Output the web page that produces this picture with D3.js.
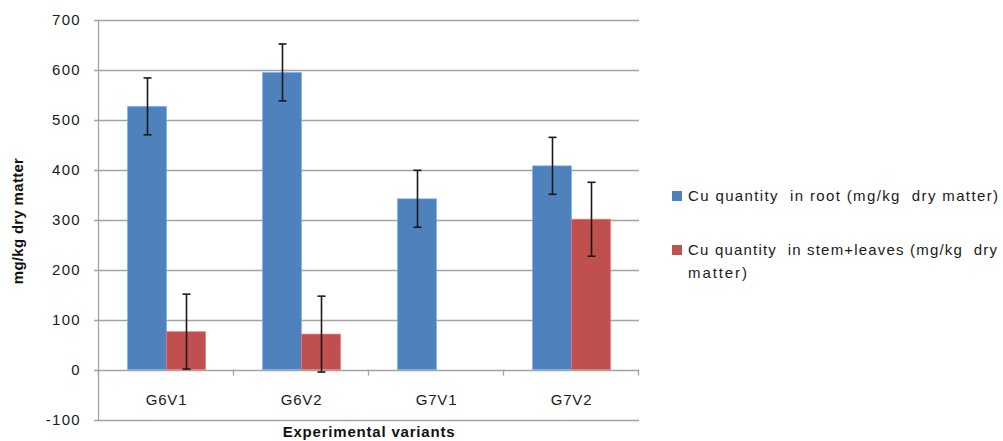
<!DOCTYPE html>
<html>
<head>
<meta charset="utf-8">
<script src="https://cdn.jsdelivr.net/npm/d3@7"></script>
<style>
  html, body { margin: 0; padding: 0; background: #fff; }
  svg { display: block; font-family: "Liberation Sans", Arial, sans-serif; }
</style>
</head>
<body>
<svg id="chart" width="1003" height="441"></svg>
<script>
// Cu content by experimental variant
const categories = ["G6V1", "G6V2", "G7V1", "G7V2"];
const rootValues = [527, 595, 342, 408];
const rootErrors = [57, 57, 57, 57];
const stemValues = [76, 71, 0, 301];
const stemErrors = [75, 76, 0, 74];
const seriesNames = [
  ["Cu quantity  in root (mg/kg  dry matter)"],
  ["Cu quantity  in stem+leaves (mg/kg  dry", "matter)"]
];
const yTicks = [-100, 0, 100, 200, 300, 400, 500, 600, 700];
const colors = ["#4F81BD", "#C0504D"];

const svg = d3.select("#chart");
const plot = { left: 99, right: 639, top: 20, bottom: 419.5 };

const x = d3.scaleBand().domain(categories).range([plot.left, plot.right]).paddingInner(0).paddingOuter(0);
const groupWidth = 78;
const sub = d3.scaleBand().domain([0, 1]).range([0, groupWidth]);
const y = d3.scaleLinear().domain([-100, 700]).range([plot.bottom, plot.top]);

// horizontal gridlines
svg.append("g").selectAll("line").data(yTicks).join("line")
  .attr("x1", plot.left - 5).attr("x2", plot.right)
  .attr("y1", d => Math.round(y(d)) + 0.5).attr("y2", d => Math.round(y(d)) + 0.5)
  .attr("stroke", "#a3a3a3").attr("stroke-width", 1.3);

// value axis line
svg.append("line")
  .attr("x1", plot.left - 0.5).attr("x2", plot.left - 0.5)
  .attr("y1", y(700)).attr("y2", y(-100) + 0.5)
  .attr("stroke", "#a3a3a3").attr("stroke-width", 1.3);

// y tick labels
svg.append("g").selectAll("text").data(yTicks).join("text")
  .attr("x", 81).attr("y", d => y(d) + 5)
  .attr("text-anchor", "end")
  .attr("font-size", 15).attr("letter-spacing", 1.3)
  .attr("fill", "#1a1a1a")
  .text(d => d);

// category axis ticks at band boundaries on the zero line
const bounds = categories.map(c => x(c)).concat([plot.right]);
svg.append("g").selectAll("line").data(bounds).join("line")
  .attr("x1", d => Math.round(d) - 0.5).attr("x2", d => Math.round(d) - 0.5)
  .attr("y1", y(0)).attr("y2", y(0) + 6)
  .attr("stroke", "#a3a3a3").attr("stroke-width", 1.3);

// bars
const series = [
  { values: rootValues, errors: rootErrors },
  { values: stemValues, errors: stemErrors }
];
const barG = svg.append("g");
series.forEach((s, i) => {
  barG.append("g").selectAll("rect").data(categories).join("rect")
    .attr("x", c => x(c) + (x.bandwidth() - groupWidth) / 2 + sub(i))
    .attr("width", sub.bandwidth())
    .attr("y", (c, k) => y(s.values[k]))
    .attr("height", (c, k) => y(0) - y(s.values[k]))
    .attr("fill", colors[i])
    .attr("stroke", d3.color(colors[i]).brighter(0.9))
    .attr("stroke-opacity", 0.6)
    .attr("stroke-width", 1)
    .style("display", (c, k) => s.values[k] > 0 ? null : "none");
});

// error bars
series.forEach((s, i) => {
  const g = svg.append("g").attr("stroke", "#1a1a1a").attr("stroke-width", 1.6);
  categories.forEach((c, k) => {
    if (s.errors[k] <= 0) return;
    const cx = Math.round(x(c) + (x.bandwidth() - groupWidth) / 2 + sub(i) + sub.bandwidth() / 2) + 0.5;
    const hi = y(s.values[k] + s.errors[k]);
    const lo = y(s.values[k] - s.errors[k]);
    g.append("line").attr("x1", cx).attr("x2", cx).attr("y1", hi).attr("y2", lo);
    g.append("line").attr("x1", cx - 4).attr("x2", cx + 4).attr("y1", hi).attr("y2", hi);
    g.append("line").attr("x1", cx - 4).attr("x2", cx + 4).attr("y1", lo).attr("y2", lo);
  });
});

// category labels
svg.append("g").selectAll("text").data(categories).join("text")
  .attr("x", c => x(c) + x.bandwidth() / 2)
  .attr("y", 405)
  .attr("text-anchor", "middle")
  .attr("font-size", 15).attr("letter-spacing", 0.8)
  .attr("fill", "#1a1a1a")
  .text(c => c);

// axis titles
svg.append("text")
  .attr("x", (plot.left + plot.right) / 2).attr("y", 437)
  .attr("text-anchor", "middle")
  .attr("font-size", 15).attr("font-weight", "bold").attr("letter-spacing", 0.8)
  .attr("fill", "#111")
  .text("Experimental variants");

svg.append("text")
  .attr("transform", "translate(23,221) rotate(-90)")
  .attr("text-anchor", "middle")
  .attr("font-size", 15).attr("font-weight", "bold").attr("letter-spacing", 0.3)
  .attr("fill", "#111")
  .text("mg/kg dry matter");

// legend
const legendRows = [
  { top: 191, lines: seriesNames[0], widths: [310] },
  { top: 245, lines: seriesNames[1], widths: [309, 59] }
];
const lg = svg.append("g");
legendRows.forEach((row, i) => {
  lg.append("rect")
    .attr("x", 672).attr("y", row.top)
    .attr("width", 10).attr("height", 10)
    .attr("fill", colors[i]);
  row.lines.forEach((t, j) => {
    lg.append("text")
      .attr("x", 688).attr("y", row.top + 10 + j * 22.5)
      .attr("font-size", 15)
      .attr("fill", "#1a1a1a")
      .attr("xml:space", "preserve")
      .style("white-space", "pre")
      .attr("textLength", row.widths[j])
      .attr("lengthAdjust", "spacing")
      .text(t);
  });
});
</script>
</body>
</html>
